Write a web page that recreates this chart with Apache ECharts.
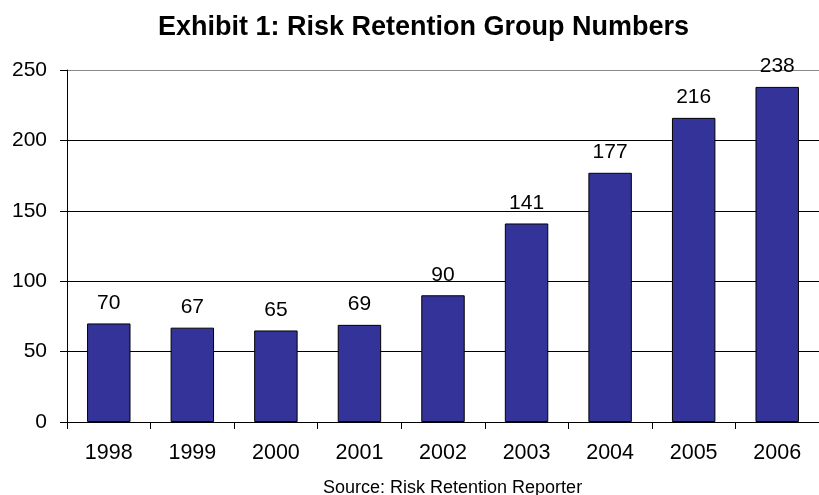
<!DOCTYPE html>
<html>
<head>
<meta charset="utf-8">
<script src="https://cdn.jsdelivr.net/npm/echarts@6/dist/echarts.min.js"></script>
<style>
  html, body { margin: 0; padding: 0; background: #fff; }
  #main { width: 819px; height: 495px; }
</style>
</head>
<body>
<div id="main"></div>
<script>
const years = ['1998', '1999', '2000', '2001', '2002', '2003', '2004', '2005', '2006']
const groups = [70, 67, 65, 69, 90, 141, 177, 216, 238]
const yTicks = [0, 50, 100, 150, 200, 250]

const chart = echarts.init(document.getElementById('main'), null, { renderer: 'canvas' })
const font = 'Liberation Sans, Arial, sans-serif'

const option = {
  backgroundColor: '#fff',
  animation: false,
  title: [{
    text: 'Exhibit 1: Risk Retention Group Numbers',
    left: 153,
    top: 9,
    textStyle: { fontFamily: font, fontSize: 27, fontWeight: 'bold', color: '#000' }
  }, {
    text: 'Source: Risk Retention Reporter',
    left: 318,
    top: 474,
    textStyle: { fontFamily: font, fontSize: 18, fontWeight: 'normal', color: '#000' }
  }],
  grid: { left: 67, top: 70, width: 756, height: 352, containLabel: false },
  xAxis: {
    type: 'category',
    data: years,
    axisLine: { lineStyle: { color: '#000', width: 1 } },
    axisTick: { show: true, length: 7, lineStyle: { color: '#000' } },
    axisLabel: { fontFamily: font, fontSize: 21.5, color: '#000', margin: 20 }
  },
  yAxis: {
    type: 'value',
    min: yTicks[0],
    max: yTicks[yTicks.length - 1],
    interval: 50,
    axisLine: { show: true, lineStyle: { color: '#000', width: 1 } },
    axisTick: { show: true, length: 7, lineStyle: { color: '#000' } },
    axisLabel: { fontFamily: font, fontSize: 21, color: '#000', margin: 20 },
    splitLine: {
      show: true,
      lineStyle: {
        color: yTicks.map((v, i) => (i === yTicks.length - 1 ? '#888' : '#000')),
        width: 1
      }
    }
  },
  series: [{
    type: 'bar',
    data: groups,
    barCategoryGap: '48%',
    itemStyle: { color: '#333399', borderColor: '#000', borderWidth: 1 },
    label: {
      show: true,
      position: 'top',
      distance: 10,
      fontFamily: font,
      fontSize: 21,
      color: '#000'
    }
  }]
}

chart.setOption(option)
</script>
</body>
</html>
